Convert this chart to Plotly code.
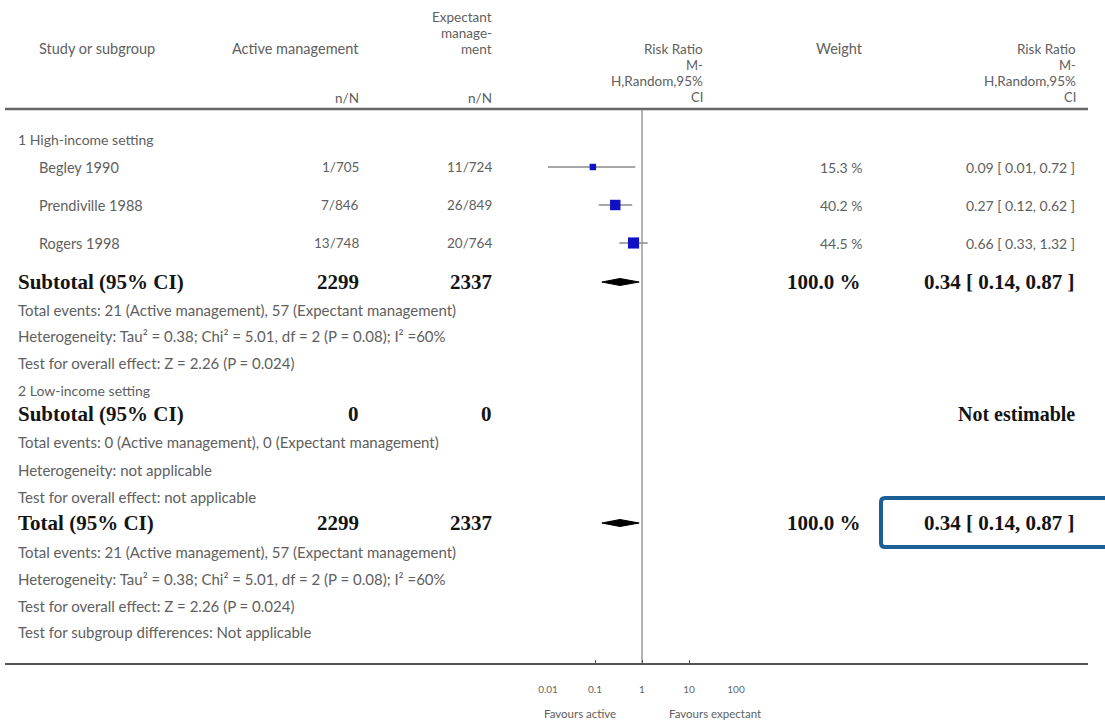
import plotly.graph_objects as go

W, H = 1105, 721

# ---------------- data ----------------
studies = ["Begley 1990", "Prendiville 1988", "Rogers 1998"]
active_nN = ["1/705", "7/846", "13/748"]
expect_nN = ["11/724", "26/849", "20/764"]
rr = [0.09, 0.27, 0.66]
rr_lo = [0.01, 0.12, 0.33]
rr_hi = [0.72, 0.62, 1.32]
weights = [15.3, 40.2, 44.5]

sub_rr, sub_lo, sub_hi = 0.34, 0.14, 0.87
tot_rr, tot_lo, tot_hi = 0.34, 0.14, 0.87
active_total = 2299
expect_total = 2337

tick_vals = [0.01, 0.1, 1, 10, 100]
tick_text = ["0.01", "0.1", "1", "10", "100"]

# ---------------- layout (pixel rows) ----------------
Y_TOP, Y_BOT = 109, 664
ROW = dict(g1=139, s0=167, s1=205, s2=243, sub1=282, te1=310, het1=336, tst1=363,
           g2=390, sub2=414, te2=442, het2=470, tst2=497, tot=523, te3=552,
           het3=579, tst3=606, sgd=632)
study_rows = [ROW["s0"], ROW["s1"], ROW["s2"]]

SANS = "Lato"
SERIF = "Liberation Serif"
GREY = "#606060"
BLACK = "#141414"
TXT = 15      # body sans text
NUM = 14      # numeric sans
HDR = 14.5    # header
STK = 13.5    # stacked header lines
BIG = 21      # bold serif


def px(x):
    return x / W


def py(y):
    return 1 - y / H


ann = []


def txt(x, y, s, anchor="left", size=TXT, bold=False, color=None):
    ann.append(dict(
        x=px(x), y=py(y), xref="paper", yref="paper",
        text=s, showarrow=False,
        xanchor=anchor, yanchor="middle", borderpad=0,
        font=dict(family=SERIF if bold else SANS, size=size,
                  weight="bold" if bold else "normal",
                  color=color or (BLACK if bold else GREY)),
    ))


# headers
txt(38, 49, "Study or subgroup", size=HDR)
txt(360, 49, "Active management", "right", HDR)
txt(493, 17, "Expectant", "right", STK)
txt(493, 33, "manage-", "right", STK)
txt(493, 49, "ment", "right", STK)
txt(360, 98, "n/N", "right", STK)
txt(493, 98, "n/N", "right", STK)
for x in (704, 1077):
    txt(x, 49, "Risk Ratio", "right", 13.5)
    txt(x, 65, "M-", "right", 13)
    txt(x, 81, "H,Random,95%", "right", 13.5)
    txt(x, 97, "CI", "right", 13)
txt(864, 49, "Weight", "right", HDR)

# group 1
txt(17, ROW["g1"], "1 High-income setting", size=14)
for i, name in enumerate(studies):
    y = study_rows[i]
    txt(38, y, name, size=14.5)
    txt(360, y, active_nN[i], "right", 13.5)
    txt(493, y, expect_nN[i], "right", 13.5)
    txt(863, y, f"{weights[i]:.1f} %", "right", NUM)
    txt(1076, y, f"{rr[i]:.2f} [ {rr_lo[i]:.2f}, {rr_hi[i]:.2f} ]", "right", NUM)

het = "Heterogeneity: Tau² = 0.38; Chi² = 5.01, df = 2 (P = 0.08); I² =60%"
te = "Total events: 21 (Active management), 57 (Expectant management)"
ovr = "Test for overall effect: Z = 2.26 (P = 0.024)"

txt(17, ROW["sub1"], "Subtotal (95% CI)", size=BIG, bold=True)
txt(360, ROW["sub1"], str(active_total), "right", BIG, True)
txt(493, ROW["sub1"], str(expect_total), "right", BIG, True)
txt(862, ROW["sub1"], "100.0 %", "right", BIG, True)
txt(1076, ROW["sub1"], f"{sub_rr:.2f} [ {sub_lo:.2f}, {sub_hi:.2f} ]", "right", BIG, True)
txt(17, ROW["te1"], te)
txt(17, ROW["het1"], het)
txt(17, ROW["tst1"], ovr)

# group 2
txt(17, ROW["g2"], "2 Low-income setting", size=14)
txt(17, ROW["sub2"], "Subtotal (95% CI)", size=BIG, bold=True)
txt(360, ROW["sub2"], "0", "right", BIG, True)
txt(493, ROW["sub2"], "0", "right", BIG, True)
txt(1076, ROW["sub2"], "Not estimable", "right", 20, True)
txt(17, ROW["te2"], "Total events: 0 (Active management), 0 (Expectant management)")
txt(17, ROW["het2"], "Heterogeneity: not applicable")
txt(17, ROW["tst2"], "Test for overall effect: not applicable")

# total
txt(17, ROW["tot"], "Total (95% CI)", size=BIG, bold=True)
txt(360, ROW["tot"], str(active_total), "right", BIG, True)
txt(493, ROW["tot"], str(expect_total), "right", BIG, True)
txt(862, ROW["tot"], "100.0 %", "right", BIG, True)
txt(1076, ROW["tot"], f"{tot_rr:.2f} [ {tot_lo:.2f}, {tot_hi:.2f} ]", "right", BIG, True)
txt(17, ROW["te3"], te)
txt(17, ROW["het3"], het)
txt(17, ROW["tst3"], ovr)
txt(17, ROW["sgd"], "Test for subgroup differences: Not applicable")

# favours labels
txt(580, 713, "Favours active", "center", 11.5)
txt(715, 713, "Favours expectant", "center", 11.5)

# ---------------- figure ----------------
fig = go.Figure()

# line of no effect
fig.add_trace(go.Scatter(x=[1, 1], y=[Y_TOP, Y_BOT], mode="lines",
                         line=dict(color="#9a9a9a", width=1.5),
                         hoverinfo="skip", cliponaxis=False))

# study estimates
fig.add_trace(go.Scatter(
    x=rr, y=study_rows, mode="markers",
    marker=dict(symbol="square", color="#1010c4", opacity=1, line=dict(width=0),
                size=[4 + w * 0.16 for w in weights]),
    error_x=dict(type="data", symmetric=False,
                 array=[h - e for h, e in zip(rr_hi, rr)],
                 arrayminus=[e - l for e, l in zip(rr, rr_lo)],
                 color="#8a8a8a", thickness=1.5, width=0),
    cliponaxis=False, hoverinfo="skip"))

# diamonds
for (est, lo, hi, y) in [(sub_rr, sub_lo, sub_hi, ROW["sub1"]),
                         (tot_rr, tot_lo, tot_hi, ROW["tot"])]:
    fig.add_trace(go.Scatter(
        x=[lo, est, hi, est, lo], y=[y, y - 3.5, y, y + 3.5, y],
        mode="lines", fill="toself", fillcolor="#000000",
        line=dict(color="#000000", width=1), cliponaxis=False, hoverinfo="skip"))


def rounded_rect(x0, y0, x1, y1, r):
    X0, X1 = px(x0), px(x1)
    Y0, Y1 = py(y0), py(y1)
    rx, ry = r / W, r / H
    return (f"M {X0 + rx} {Y0} L {X1 - rx} {Y0} Q {X1} {Y0} {X1} {Y0 - ry} "
            f"L {X1} {Y1 + ry} Q {X1} {Y1} {X1 - rx} {Y1} L {X0 + rx} {Y1} "
            f"Q {X0} {Y1} {X0} {Y1 + ry} L {X0} {Y0 - ry} Q {X0} {Y0} {X0 + rx} {Y0} Z")


shapes = [
    dict(type="line", xref="paper", yref="paper", x0=px(5), x1=px(1088),
         y0=py(Y_TOP), y1=py(Y_TOP), line=dict(color="#666666", width=2.5)),
    dict(type="line", xref="paper", yref="paper", x0=px(5), x1=px(1088),
         y0=py(Y_BOT), y1=py(Y_BOT), line=dict(color="#555555", width=2)),
    dict(type="path", xref="paper", yref="paper",
         path=rounded_rect(881, 498, 1130, 547, 4),
         line=dict(color="#1b5f96", width=4)),
]

fig.update_layout(
    width=W, height=H,
    margin=dict(l=0, r=0, t=0, b=0, pad=0, autoexpand=False),
    paper_bgcolor="white", plot_bgcolor="white", showlegend=False,
    annotations=ann, shapes=shapes,
    xaxis=dict(type="log", range=[-2, 2], domain=[px(548), px(736)],
               tickvals=tick_vals, ticktext=tick_text, ticks="inside",
               ticklen=4, tickcolor="#555555", tickwidth=1,
               tickfont=dict(family=SANS, size=10, color="#666666"),
               ticklabelstandoff=18, automargin=False,
               showgrid=False, zeroline=False, showline=False, fixedrange=True),
    yaxis=dict(range=[Y_BOT, Y_TOP], domain=[py(Y_BOT), py(Y_TOP)],
               showgrid=False, zeroline=False, showticklabels=False,
               showline=False, ticks="", fixedrange=True, automargin=False),
)

fig.write_html(
    "out.html",
    config={"displayModeBar": False},
    post_script=("document.body.style.margin='0';"
                 "document.body.style.overflow='hidden';"
                 "document.documentElement.style.overflow='hidden';"),
)
